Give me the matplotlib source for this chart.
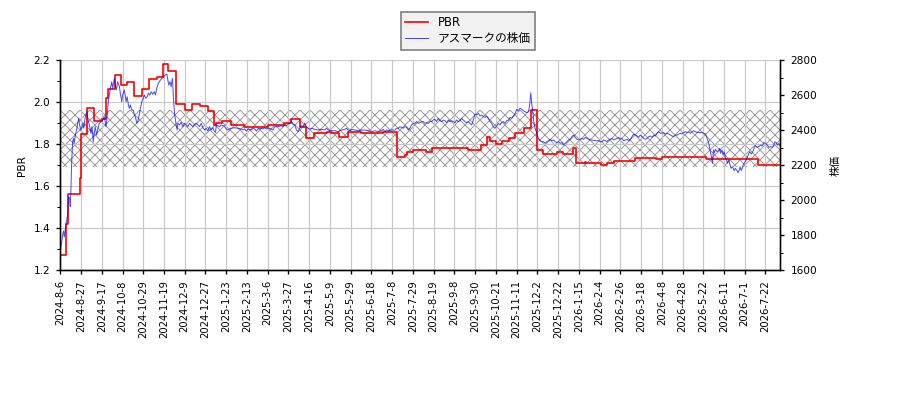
import numpy as np
import matplotlib
matplotlib.use("Agg")
import matplotlib.pyplot as plt
from matplotlib.ticker import MultipleLocator

plt.rcParams['font.family'] = ['DejaVu Sans', 'Noto Sans CJK JP']
plt.rcParams['hatch.linewidth'] = 0.6

# trading-day axis: one label every 14 trading days
tick_labels = ['2024-8-6', '2024-8-27', '2024-9-17', '2024-10-8', '2024-10-29',
               '2024-11-19', '2024-12-9', '2024-12-27', '2025-1-23', '2025-2-13',
               '2025-3-6', '2025-3-27', '2025-4-16', '2025-5-9', '2025-5-29',
               '2025-6-18', '2025-7-8', '2025-7-29', '2025-8-19', '2025-9-8',
               '2025-9-30', '2025-10-21', '2025-11-11', '2025-12-2', '2025-12-22',
               '2026-1-15', '2026-2-4', '2026-2-26', '2026-3-18', '2026-4-8',
               '2026-4-28', '2026-5-22', '2026-6-11', '2026-7-1', '2026-7-22']
tick_step = 14
n_days = 487

# PBR (step changes: trading day where the new level starts)
pbr_day = [0, 4, 5, 13, 14, 18, 23, 28, 31, 32,
           37, 41, 45, 50, 55, 60, 65, 69, 73, 78,
           84, 89, 94, 100, 104, 105, 109, 115, 124, 140,
           151, 156, 162, 166, 171, 180, 183, 188, 194, 203,
           218, 227, 233, 234, 238, 247, 251, 275, 284, 288,
           290, 294, 298, 303, 307, 313, 318, 322, 326, 335,
           339, 346, 348, 354, 355, 365, 369, 374, 388, 402,
           406, 436, 471]
pbr_val = [1.27, 1.42, 1.56, 1.64, 1.85, 1.97, 1.91, 1.92, 2.02, 2.06,
           2.13, 2.08, 2.095, 2.03, 2.06, 2.11, 2.12, 2.18, 2.15, 1.99,
           1.96, 1.99, 1.98, 1.955, 1.89, 1.90, 1.91, 1.889, 1.881, 1.889,
           1.898, 1.918, 1.882, 1.827, 1.854, 1.859, 1.854, 1.835, 1.859, 1.851,
           1.859, 1.737, 1.748, 1.763, 1.771, 1.763, 1.779, 1.771, 1.795, 1.835,
           1.814, 1.80, 1.814, 1.827, 1.851, 1.878, 1.962, 1.771, 1.751, 1.76,
           1.751, 1.779, 1.708, 1.715, 1.708, 1.70, 1.708, 1.719, 1.735, 1.727,
           1.737, 1.727, 1.70]

# share price (trading day, yen)
price_day = [0.0, 1.6, 2.2, 2.7, 3.8, 4.9, 5.6, 6.3, 6.7, 7.2, 7.6, 8.3, 9.0, 9.4, 10.1,
             11.0, 11.7, 12.4, 13.0, 13.9, 14.6, 15.3, 15.8, 16.7, 18.0, 18.5, 19.6, 20.7,
             21.4, 22.3, 23.0, 23.6, 24.5, 25.2, 26.3, 27.5, 28.6, 29.7, 30.9, 31.5, 32.4,
             33.1, 33.8, 34.7, 35.4, 36.5, 37.2, 37.8, 38.7, 39.9, 40.5, 41.5, 42.1, 43.3,
             44.4, 45.1, 46.0, 46.6, 47.3, 48.2, 49.3, 50.0, 50.7, 51.6, 52.3, 53.2, 54.1,
             55.0, 55.9, 56.8, 57.7, 58.6, 59.5, 60.4, 61.3, 62.4, 63.5, 64.2, 65.1, 66.2,
             67.6, 68.7, 69.9, 70.8, 71.9, 73.2, 74.1, 74.8, 75.7, 76.4, 77.1, 78.2, 78.9,
             79.3, 80.5, 81.6, 82.7, 83.8, 85.0, 86.1, 87.2, 88.3, 89.5, 90.6, 91.7, 92.9,
             94.0, 95.1, 96.2, 97.4, 98.5, 99.6, 100.7, 101.9, 103.0, 104.1, 104.8, 105.3,
             106.4, 107.5, 108.6, 109.8, 110.9, 112.0, 113.1, 114.3, 115.4, 117.6, 119.9,
             122.2, 123.3, 124.4, 125.5, 126.7, 128.9, 130.0, 131.2, 132.3, 133.4, 135.7,
             136.8, 137.9, 139.1, 140.2, 142.4, 143.6, 144.7, 147.0, 149.2, 150.3, 151.5,
             152.6, 153.7, 154.8, 156.0, 157.1, 158.2, 159.4,
             160.5, 161.6, 162.8, 163.9, 165.0, 166.1, 167.3, 168.4, 169.5, 171.8, 174.0,
             176.3, 178.5, 179.7, 180.8, 183.0, 185.3, 187.5, 189.8, 192.1, 193.2, 194.3,
             195.4, 196.6, 198.8, 201.1, 203.3, 205.6, 207.8, 210.1, 212.3, 214.6, 216.9,
             218.0, 219.1, 220.2, 221.4, 223.6, 225.9, 227.0, 228.1, 229.2, 230.4, 231.5,
             232.6, 233.8, 234.9, 236.0, 237.1, 238.3, 239.4, 240.5, 241.6, 242.8, 243.9,
             245.0, 246.1, 247.2, 248.4, 249.5, 250.6, 251.7, 252.9, 254.0, 255.1, 256.3,
             257.4, 258.5, 259.6, 260.8, 261.9, 263.0, 264.1, 265.3, 266.4, 267.5, 268.6,
             269.8, 270.9, 272.0, 273.2, 274.3, 275.4, 276.5, 277.7, 278.8, 279.9, 281.0,
             282.2, 283.3, 284.4, 285.6, 286.7, 287.8, 288.9, 290.1, 291.2, 292.3, 293.4,
             294.6, 295.7, 296.8, 297.9, 299.1, 300.2, 301.3, 302.5, 303.6, 304.7, 305.8,
             307.0, 308.1, 309.2, 310.3, 311.5, 312.6, 313.7, 314.9, 316.0, 316.7, 317.6,
             318.2, 318.9, 319.6, 320.5, 321.6, 322.7, 323.9, 325.0,
             326.2, 327.3, 328.4, 329.6, 330.7, 331.8, 332.9, 334.1, 335.2, 336.3, 337.5,
             338.6, 339.7, 340.8, 342.0, 343.1, 344.2, 345.3, 346.5, 347.6, 348.7, 349.8,
             351.0, 352.1, 353.2, 354.4, 355.5, 356.6, 357.7, 358.9, 361.1, 363.4, 364.5,
             365.6, 366.8, 367.9, 369.0, 370.1, 371.3, 372.4, 373.5, 374.6, 375.8, 376.9,
             378.0, 379.2, 380.3, 381.4, 382.5, 383.7, 384.8, 385.9, 387.0, 388.2, 389.3,
             390.4, 391.5, 392.7, 393.8, 394.9, 396.1, 397.2, 398.3, 399.4, 400.6, 401.7,
             402.8, 403.9, 405.1,
             407.3, 408.4, 409.5, 410.7, 411.8, 412.9, 414.0, 415.2, 416.3, 417.4, 418.6,
             419.7, 420.8, 421.9, 423.1, 424.2, 425.3, 426.4, 427.6, 428.7, 429.8, 430.9,
             432.1, 433.2, 434.3, 435.5, 436.6, 437.7, 438.4, 439.1, 439.7, 440.2, 440.9,
             441.5, 442.2, 443.3, 444.5, 445.1, 445.6, 446.7, 447.4, 448.1, 449.0, 449.7,
             450.3, 451.2, 451.9, 452.8, 453.5, 454.2, 454.8, 455.7, 456.9, 457.5, 458.2,
             458.9, 459.6, 460.3, 460.9, 461.6, 462.3, 463.0, 463.9, 464.8, 465.4, 466.3,
             467.0, 467.7, 468.6, 469.3, 470.4, 471.5, 472.6, 473.8, 474.9, 476.0, 477.2,
             478.3, 479.4, 480.5, 481.7, 482.3, 483.2, 484.1, 485.0, 486.0]
price_val = [1705, 1800, 1823, 1790, 1857, 1914, 2019, 2010, 1962, 2067, 2200, 2333, 2352, 2324, 2371,
             2400, 2438, 2467, 2429, 2400, 2419, 2438, 2410, 2467, 2505, 2467, 2429, 2381,
             2419, 2333, 2390, 2419, 2371, 2400, 2438, 2448, 2457, 2476, 2419, 2467, 2562,
             2600, 2638, 2676, 2638, 2695, 2657, 2629, 2676, 2648, 2610, 2562, 2600, 2629,
             2562, 2590, 2543, 2524, 2543, 2514, 2514, 2486, 2476, 2438, 2448, 2486, 2524,
             2562, 2581, 2600, 2581, 2590, 2610, 2600, 2619, 2604, 2619, 2600, 2638, 2667,
             2686, 2695, 2705, 2714, 2720, 2657, 2676, 2648, 2695, 2581, 2495, 2429, 2400,
             2438, 2429, 2444, 2419, 2438, 2429, 2419, 2438, 2429, 2419, 2432, 2438, 2429,
             2419, 2438, 2413, 2400, 2410, 2394, 2419, 2400, 2413, 2390, 2387, 2429,
             2423, 2419, 2429, 2425, 2419, 2406, 2400, 2406, 2410, 2413, 2410,
             2406, 2400, 2406, 2394, 2406, 2400, 2410, 2406, 2394, 2406, 2410,
             2406, 2413, 2406, 2410, 2406, 2400, 2419, 2419, 2425, 2419, 2429,
             2425, 2432, 2438, 2448, 2432, 2429, 2400,
             2390, 2410, 2425, 2419, 2440, 2415, 2410, 2404, 2410, 2404, 2400,
             2404, 2400, 2410, 2400, 2396, 2396, 2390, 2400, 2404, 2410, 2400,
             2396, 2404, 2400, 2396, 2400, 2400, 2396, 2390, 2396, 2390, 2396,
             2404, 2390, 2400, 2396, 2400, 2400, 2410, 2410, 2419, 2415, 2410,
             2419, 2415, 2400, 2410, 2429, 2438, 2438, 2448, 2438, 2442, 2448,
             2448, 2438, 2442, 2438, 2448, 2448, 2457, 2461, 2448, 2467, 2453,
             2448, 2457, 2453, 2442, 2457, 2448, 2453, 2448, 2442, 2457, 2448,
             2453, 2467, 2457, 2448, 2442, 2448, 2438, 2429, 2457, 2491, 2486,
             2495, 2480, 2486, 2476, 2472, 2480, 2467, 2448, 2438, 2419, 2410,
             2423, 2438, 2429, 2442, 2448, 2438, 2453, 2457, 2472, 2467, 2480,
             2495, 2518, 2510, 2524, 2518, 2510, 2505, 2499, 2505, 2533, 2613,
             2552, 2505, 2448, 2410, 2381, 2352, 2339, 2333,
             2333, 2324, 2333, 2339, 2347, 2339, 2343, 2333, 2328, 2333, 2324,
             2328, 2314, 2324, 2333, 2343, 2347, 2362, 2371, 2358, 2347, 2343,
             2347, 2352, 2347, 2358, 2352, 2347, 2343, 2343, 2339, 2339, 2333,
             2333, 2343, 2339, 2333, 2343, 2347, 2352, 2343, 2347, 2352, 2358,
             2347, 2352, 2339, 2343, 2347, 2339, 2347, 2362, 2377, 2371, 2366,
             2358, 2371, 2362, 2352, 2347, 2352, 2362, 2366, 2358, 2371, 2366,
             2381, 2390, 2381,
             2385, 2377, 2381, 2377, 2371, 2366, 2362, 2371, 2371, 2377, 2381,
             2377, 2385, 2390, 2385, 2390, 2381, 2390, 2396, 2390, 2387, 2385,
             2385, 2385, 2381, 2377, 2352, 2324, 2295, 2267, 2238, 2210, 2286,
             2270, 2290, 2276, 2286, 2295, 2267, 2286, 2257, 2276, 2238, 2229,
             2210, 2229, 2206, 2181, 2190, 2181, 2168, 2181, 2166, 2156, 2171,
             2190, 2168, 2181, 2200, 2210, 2219, 2229, 2248, 2267, 2276, 2263,
             2270, 2282, 2305, 2309, 2301, 2305, 2314, 2309, 2328, 2324, 2314,
             2301, 2305, 2301, 2314, 2333, 2328, 2314, 2324, 2305]

band_low, band_high = 1.69, 1.96

fig, ax1 = plt.subplots(figsize=(7.5, 10 / 3), dpi=120)
fig.subplots_adjust(left=0.067, right=0.867, top=0.85, bottom=0.325)
ax2 = ax1.twinx()

ax1.axhspan(band_low, band_high, facecolor='none', edgecolor='#9a9a9a',
            hatch='xxxx', lw=0)
l1, = ax1.plot(pbr_day + [n_days - 1], pbr_val + [pbr_val[-1]],
               drawstyle='steps-post', color='red', lw=1.0, label='PBR')
l2, = ax2.plot(price_day, price_val, color='blue', alpha=0.7, lw=0.6,
               label='アスマークの株価')

ax1.set_xlim(0, n_days - 1)
ax1.set_xticks(np.arange(len(tick_labels)) * tick_step)
ax1.set_xticklabels(tick_labels, rotation=90, fontsize=6)
ax1.set_ylim(1.2, 2.2)
ax1.yaxis.set_major_locator(MultipleLocator(0.2))
ax1.yaxis.set_minor_locator(MultipleLocator(0.1))
ax2.set_ylim(1600, 2800)
ax2.yaxis.set_major_locator(MultipleLocator(200))
ax2.yaxis.set_minor_locator(MultipleLocator(100))

ax1.grid(True, color='#c8c8c8', lw=0.7)
for ax in (ax1, ax2):
    ax.spines['top'].set_visible(False)
    ax.tick_params(axis='both', which='major', length=2.6, labelsize=6.3)
    ax.tick_params(axis='both', which='minor', length=1.6)
ax1.tick_params(axis='x', labelsize=6)

ax1.set_ylabel('PBR', fontsize=6.3)
ax2.set_ylabel('株価', fontsize=6.3, labelpad=8)

fig.legend(handles=[l1, l2], loc='upper center', bbox_to_anchor=(0.52, 0.985),
           fontsize=7.0, fancybox=False, facecolor='#f2f2f2', edgecolor='#808080',
           framealpha=1, labelspacing=0.3, borderpad=0.35)

fig.savefig('out.png', dpi=120)
